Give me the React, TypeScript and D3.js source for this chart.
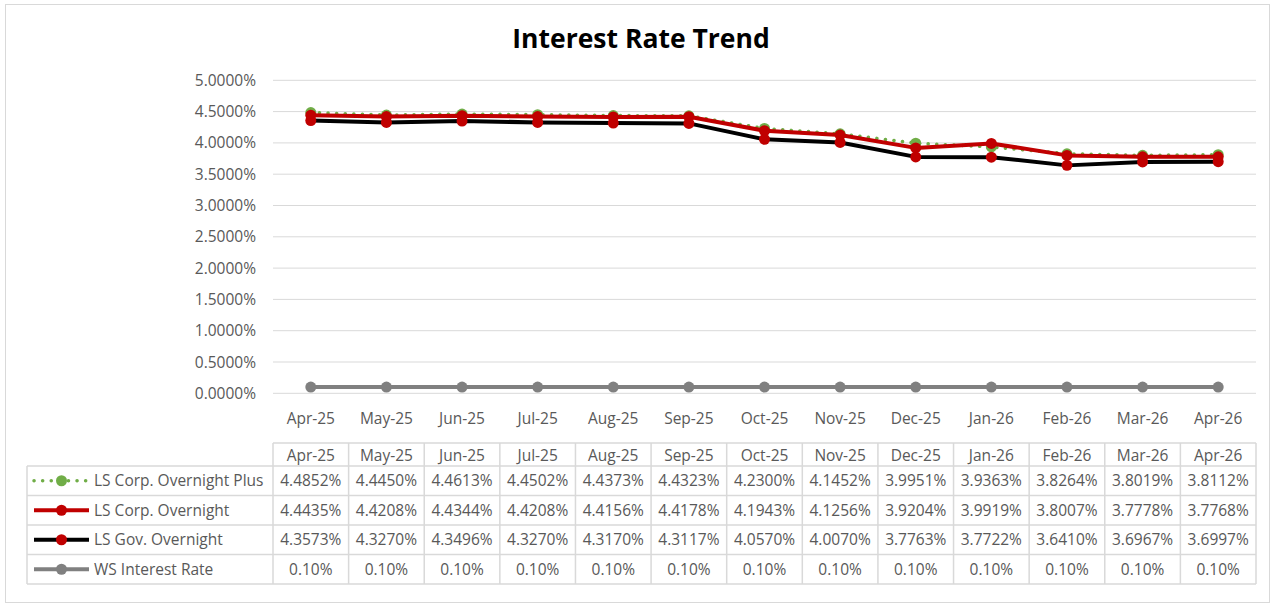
import React from "react";
import * as d3 from "d3";

const categories = ["Apr-25","May-25","Jun-25","Jul-25","Aug-25","Sep-25","Oct-25","Nov-25","Dec-25","Jan-26","Feb-26","Mar-26","Apr-26"];
const corpPlus = [4.4852,4.4450,4.4613,4.4502,4.4373,4.4323,4.2300,4.1452,3.9951,3.9363,3.8264,3.8019,3.8112];
const corp = [4.4435,4.4208,4.4344,4.4208,4.4156,4.4178,4.1943,4.1256,3.9204,3.9919,3.8007,3.7778,3.7768];
const gov = [4.3573,4.3270,4.3496,4.3270,4.3170,4.3117,4.0570,4.0070,3.7763,3.7722,3.6410,3.6967,3.6997];
const ws = [0.10,0.10,0.10,0.10,0.10,0.10,0.10,0.10,0.10,0.10,0.10,0.10,0.10];
const yTicks = [0,0.5,1,1.5,2,2.5,3,3.5,4,4.5,5];

type S = { name: string; values: number[]; line: string; marker: string; dotted?: boolean; fmt: (v: number) => string };
const series: S[] = [
  { name: "LS Corp. Overnight Plus", values: corpPlus, line: "#70ad47", marker: "#70ad47", dotted: true, fmt: v => v.toFixed(4) + "%" },
  { name: "LS Corp. Overnight", values: corp, line: "#c00000", marker: "#c00000", fmt: v => v.toFixed(4) + "%" },
  { name: "LS Gov. Overnight", values: gov, line: "#000000", marker: "#c00000", fmt: v => v.toFixed(4) + "%" },
  { name: "WS Interest Rate", values: ws, line: "#808080", marker: "#808080", fmt: v => v.toFixed(2) + "%" },
];

const FONT = "'Open Sans', 'Noto Sans', sans-serif";
const W = 1271, H = 604;
const left = 273, right = 1256, top = 80.3, bottom = 393.3;
const tableTop = 443, headerH = 23, rowH = 29.5, legendLeft = 27;
const FS = 15.5;

export default function App() {
  const x = d3.scaleBand().domain(categories).range([left, right]);
  const y = d3.scaleLinear().domain([0, 5]).range([bottom, top]);
  const cx = (c: string) => (x(c) as number) + x.bandwidth() / 2;
  const lineGen = d3.line<number>().x((_, i) => cx(categories[i])).y(v => y(v));
  const grid = "#d9d9d9";
  const txt = "#595959";
  const drawOrder = [0, 1, 2, 3];

  return (
    <svg width={W} height={H} style={{ position: "absolute", left: 0, top: 0, fontFamily: FONT }}>
      <rect x={0} y={0} width={W} height={H} fill="#fff" />
      <rect x={5.5} y={4.5} width={1264} height={598} fill="#fff" stroke="#d9d9d9" />
      <text x={641} y={48} textAnchor="middle" fontSize={26.5} fontWeight="bold" fill="#000">Interest Rate Trend</text>
      {yTicks.map(t => (
        <g key={t}>
          <line x1={left} x2={right} y1={y(t)} y2={y(t)} stroke={grid} strokeWidth={1} />
          <text x={256} y={y(t) + 5.5} textAnchor="end" fontSize={FS} fill={txt}>{t.toFixed(4)}%</text>
        </g>
      ))}
      {categories.map(c => (
        <text key={c} x={cx(c)} y={424} textAnchor="middle" fontSize={FS} fill={txt}>{c}</text>
      ))}
      {drawOrder.map(si => {
        const s = series[si];
        return (
          <g key={s.name}>
            <path d={lineGen(s.values) || ""} fill="none" stroke={s.line}
              strokeWidth={s.dotted ? 3.5 : 4}
              strokeDasharray={s.dotted ? "0.1 8.5" : undefined}
              strokeLinecap={s.dotted ? "round" : "butt"} strokeLinejoin="round" />
            {s.values.map((v, i) => (
              <circle key={i} cx={cx(categories[i])} cy={y(v)} r={5.5} fill={s.marker} />
            ))}
          </g>
        );
      })}
      {/* data table */}
      <g>
        {categories.map(c => (
          <text key={c} x={cx(c)} y={tableTop + 17.5} textAnchor="middle" fontSize={FS} fill={txt}>{c}</text>
        ))}
        {series.map((s, r) => {
          const ry = tableTop + headerH + r * rowH;
          const my = ry + rowH / 2;
          return (
            <g key={s.name}>
              <line x1={34} x2={89} y1={my} y2={my} stroke={s.line} strokeWidth={s.dotted ? 3.5 : 4}
                strokeDasharray={s.dotted ? "0.1 8.5" : undefined}
                strokeLinecap={s.dotted ? "round" : "butt"} />
              <circle cx={61.5} cy={my} r={5.5} fill={s.marker} />
              <text x={94} y={my + 5.5} fontSize={FS} fill={txt}>{s.name}</text>
              {s.values.map((v, i) => (
                <text key={i} x={cx(categories[i])} y={my + 5.5} textAnchor="middle" fontSize={FS} fill={txt}>{s.fmt(v)}</text>
              ))}
            </g>
          );
        })}
        <line x1={left} x2={right} y1={tableTop} y2={tableTop} stroke={grid} strokeWidth={1.5} />
        {series.map((_, r) => {
          const ry = tableTop + headerH + r * rowH;
          return <line key={r} x1={legendLeft} x2={right} y1={ry} y2={ry} stroke={grid} strokeWidth={1.5} />;
        })}
        <line x1={legendLeft} x2={right} y1={tableTop + headerH + 4 * rowH} y2={tableTop + headerH + 4 * rowH} stroke={grid} strokeWidth={1.5} />
        <line x1={legendLeft} x2={legendLeft} y1={tableTop + headerH} y2={tableTop + headerH + 4 * rowH} stroke={grid} strokeWidth={1.5} />
        {categories.map(c => (
          <line key={c} x1={(x(c) as number)} x2={(x(c) as number)} y1={tableTop} y2={tableTop + headerH + 4 * rowH} stroke={grid} strokeWidth={1.5} />
        ))}
        <line x1={right} x2={right} y1={tableTop} y2={tableTop + headerH + 4 * rowH} stroke={grid} strokeWidth={1.5} />
      </g>
    </svg>
  );
}
